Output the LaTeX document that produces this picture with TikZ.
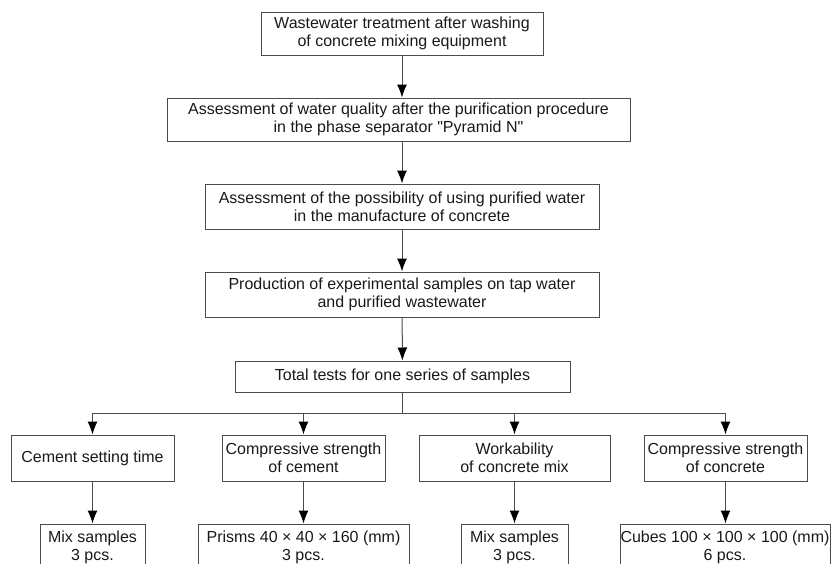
\documentclass[tikz,border=0pt]{standalone}
\usepackage{fontspec}
\setmainfont{Liberation Sans}
\usetikzlibrary{arrows.meta}

\begin{document}
\begin{tikzpicture}[x=.5pt,y=-.5pt,
    every node/.style={font=\fontsize{8}{9}\selectfont,text=black!90},
    box/.style={draw=black!70,line width=.5pt,align=center,inner sep=0pt},
    link/.style={draw=black!70,line width=.5pt},
    arr/.style={link,-{Latex[length=6.5pt,width=5pt,color=black]}}]
    \useasboundingbox (0,0) rectangle (831,563);
    \clip (0,0) rectangle (831,563);
    % main chain
    \node[box,minimum width=141pt,minimum height=21.5pt] (wash) at (402,33.5) {Wastewater treatment after washing\\of concrete mixing equipment};
    \node[box,minimum width=231.5pt,minimum height=21.5pt] (quality) at (398.5,119.5) {Assessment of water quality after the purification procedure\\in the phase separator \textquotedbl Pyramid N\textquotedbl};
    \node[box,minimum width=197pt,minimum height=22.5pt] (usage) at (402,206.5) {Assessment of the possibility of using purified water\\in the manufacture of concrete};
    \node[box,minimum width=197pt,minimum height=22.5pt] (samples) at (402,294.5) {Production of experimental samples on tap water\\and purified wastewater};
    \node[box,minimum width=167.5pt,minimum height=15.5pt] (total) at (402.5,376.5) {Total tests for one series of samples};
    \draw[arr] (wash) -- (wash |- quality.north);
    \draw[arr] (quality.south -| usage) -- (usage);
    \draw[arr] (usage) -- (samples);
    \draw[arr] (samples) -- (total);
    % tests
    \node[box,minimum width=81.5pt,minimum height=23pt] (setting) at (92.5,458) {Cement setting time};
    \node[box,minimum width=81.5pt,minimum height=23pt] (cement) at (303.5,458) {Compressive strength\\of cement};
    \node[box,minimum width=95.5pt,minimum height=23pt] (mix) at (514.5,458) {Workability\\of concrete mix};
    \node[box,minimum width=81.5pt,minimum height=23pt] (concrete) at (725.5,458) {Compressive strength\\of concrete};
    % specimens
    \node[box,minimum width=52.5pt,minimum height=23pt] (setmix) at (92.5,547) {Mix samples\\3 pcs.};
    \node[box,minimum width=105.5pt,minimum height=23pt] (prisms) at (303.5,547) {Prisms 40 × 40 × 160 (mm)\\3 pcs.};
    \node[box,minimum width=53.5pt,minimum height=23pt] (mixmix) at (514.5,547) {Mix samples\\3 pcs.};
    \node[box,minimum width=105pt,minimum height=23pt] (cubes) at (725,547) {Cubes 100 × 100 × 100 (mm)\\6 pcs.};
    \coordinate (fork) at (402,413);
    \draw[link] (total.south -| fork) -- (fork);
    \foreach \n in {setting,cement,mix,concrete}
        \draw[arr] (fork) -| (\n);
    \foreach \a/\b in {setting/setmix,cement/prisms,mix/mixmix,concrete/cubes}
        \draw[arr] (\a) -- (\a |- \b.north);
\end{tikzpicture}
\end{document}
